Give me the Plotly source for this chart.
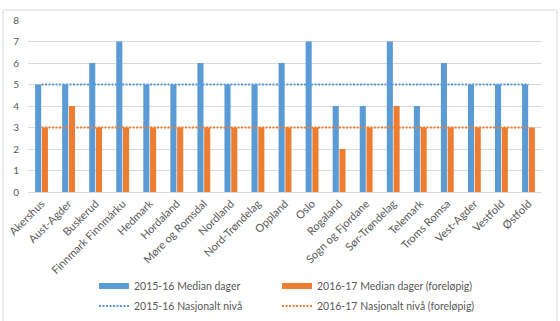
import plotly.graph_objects as go

categories = ["Akershus", "Aust-Agder", "Buskerud", "Finnmark Finnmárku", "Hedmark", "Hordaland",
              "Møre og Romsdal", "Nordland", "Nord-Trøndelag", "Oppland", "Oslo", "Rogaland",
              "Sogn og Fjordane", "Sør-Trøndelag", "Telemark", "Troms Romsa", "Vest-Agder",
              "Vestfold", "Østfold"]
median_1516 = [5, 5, 6, 7, 5, 5, 6, 5, 5, 6, 7, 4, 4, 7, 4, 6, 5, 5, 5]
median_1617 = [3, 4, 3, 3, 3, 3, 3, 3, 3, 3, 3, 2, 3, 4, 3, 3, 3, 3, 3]
nasjonalt_1516 = [5, 5, 5, 5, 5, 5, 5, 5, 5, 5, 5, 5, 5, 5, 5, 5, 5, 5, 5]
nasjonalt_1617 = [3, 3, 3, 3, 3, 3, 3, 3, 3, 3, 3, 3, 3, 3, 3, 3, 3, 3, 3]

BLUE = "#5B9BD5"
ORANGE = "#ED7D31"
FONT = "Lato"
TXT = "#595959"
DOT = "2px,1.5px"

fig = go.Figure()
fig.add_trace(go.Bar(x=categories, y=median_1516, marker=dict(color=BLUE, line=dict(width=0)),
                     name="2015-16 Median dager", showlegend=False))
fig.add_trace(go.Bar(x=categories, y=median_1617, marker=dict(color=ORANGE, line=dict(width=0)),
                     name="2016-17 Median dager (foreløpig)", showlegend=False))
fig.add_trace(go.Scatter(x=categories, y=nasjonalt_1516, mode="lines",
                         line=dict(color=BLUE, width=2, dash=DOT),
                         name="2015-16 Nasjonalt nivå", showlegend=False))
fig.add_trace(go.Scatter(x=categories, y=nasjonalt_1617, mode="lines",
                         line=dict(color=ORANGE, width=2, dash=DOT),
                         name="2016-17 Nasjonalt nivå (foreløpig)", showlegend=False))

# legend entries (one legend per entry for exact placement)
fig.add_trace(go.Scatter(x=[None], y=[None], mode="lines", line=dict(color=BLUE, width=6),
                         name="2015-16 Median dager", legend="legend"))
fig.add_trace(go.Scatter(x=[None], y=[None], mode="lines", line=dict(color=BLUE, width=2, dash=DOT),
                         name="2015-16 Nasjonalt nivå", legend="legend2"))
fig.add_trace(go.Scatter(x=[None], y=[None], mode="lines", line=dict(color=ORANGE, width=6),
                         name="2016-17 Median dager (foreløpig)", legend="legend3"))
fig.add_trace(go.Scatter(x=[None], y=[None], mode="lines", line=dict(color=ORANGE, width=2, dash=DOT),
                         name="2016-17 Nasjonalt nivå (foreløpig)", legend="legend4"))

def leg(xpx, ypx):
    return dict(orientation="v", xref="container", yref="container",
                x=xpx / 560, y=(321 - ypx) / 321, xanchor="left", yanchor="middle",
                bgcolor="rgba(0,0,0,0)", font=dict(family=FONT, size=10.5, color=TXT),
                itemwidth=30)

fig.update_layout(
    width=560, height=321,
    margin=dict(l=28, r=18, t=20, b=129, autoexpand=False),
    paper_bgcolor="white", plot_bgcolor="white",
    barmode="group", bargap=0.5, bargroupgap=0.1,
    font=dict(family=FONT, size=10, color=TXT),
    xaxis=dict(tickangle=-45, showgrid=False, showline=True, linecolor="#D9D9D9", linewidth=1,
               ticks="", automargin=False, tickfont=dict(family=FONT, size=11, color=TXT)),
    yaxis=dict(range=[0, 8], dtick=1, showgrid=True, gridcolor="#D9D9D9", gridwidth=1,
               zeroline=False, showline=False, ticks="", ticklabelstandoff=8, automargin=False,
               tickfont=dict(family=FONT, size=10, color=TXT)),
    legend=leg(94, 286),
    legend2=leg(94, 306),
    legend3=leg(277, 286),
    legend4=leg(277, 306),
    shapes=[dict(type="rect", xref="paper", yref="paper",
                 x0=(3 - 28) / 514, x1=(557 - 28) / 514,
                 y0=(192 - 330) / 172, y1=(192 - 10) / 172,
                 line=dict(color="#D9D9D9", width=1), fillcolor="rgba(0,0,0,0)", layer="below")],
)

fig.write_html("out.html")
